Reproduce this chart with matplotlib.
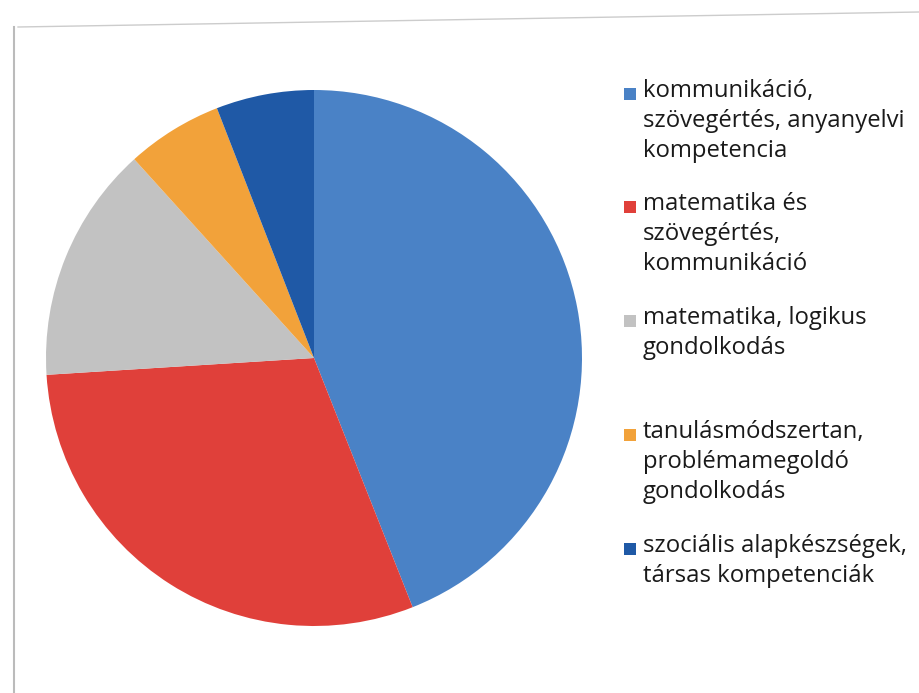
import matplotlib.pyplot as plt
from matplotlib.lines import Line2D
from matplotlib.patches import Rectangle

# kompetencia-területek megoszlása (%-ban, a képről becsülve)
labels = [
    'kommunikáció,\nszövegértés, anyanyelvi\nkompetencia',
    'matematika és\nszövegértés,\nkommunikáció',
    'matematika, logikus\ngondolkodás',
    'tanulásmódszertan,\nproblémamegoldó\ngondolkodás',
    'szociális alapkészségek,\ntársas kompetenciák',
]
values = [44, 30, 14.3, 5.8, 5.9]
colors = ['#4a82c6', '#e0403a', '#c2c2c2', '#f2a23a', '#1f59a6']

# legenda sorainak helye (y a képen, pixel)
legend_y = [93, 206, 320, 434, 548]

fig = plt.figure(figsize=(9.19, 6.93), dpi=100)
plt.rcParams['font.family'] = ['Open Sans', 'DejaVu Sans']

ax = fig.add_axes([46 / 919, 67 / 693, 536 / 919, 536 / 693])
ax.pie(values, colors=colors, startangle=90, counterclock=False,
       radius=1, wedgeprops={'linewidth': 0})
ax.set_xlim(-1, 1)
ax.set_ylim(-1, 1)
ax.set_aspect('equal')
ax.axis('off')

W, H = 919, 693
for lab, c, y in zip(labels, colors, legend_y):
    fig.add_artist(Rectangle((624 / W, 1 - (y + 7) / H), 12 / W, 12 / H,
                             transform=fig.transFigure, color=c, lw=0))
    fig.text(643 / W, 1 - (y - 14) / H, lab, ha='left', va='top',
             fontsize=17.2, color='#1a1a1a', linespacing=1.32)

# a beszkennelt keret halvány vonalai
fig.add_artist(Line2D([14 / W, 14 / W], [0, 1 - 27 / H],
                      transform=fig.transFigure, color='#bbbbbb', lw=1.5))
fig.add_artist(Line2D([18 / W, 1], [1 - 27 / H, 1 - 12 / H],
                      transform=fig.transFigure, color='#cccccc', lw=1))

fig.savefig('out.png', dpi=100, facecolor='white')
